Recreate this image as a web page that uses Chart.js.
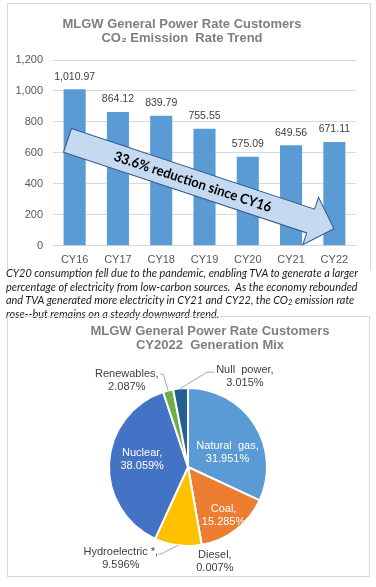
<!DOCTYPE html>
<html>
<head>
<meta charset="utf-8">
<script src="https://cdn.jsdelivr.net/npm/chart.js@4.4.1/dist/chart.umd.min.js"></script>
<style>
html,body{margin:0;padding:0;background:#fff;width:376px;height:587px;overflow:hidden;}
#barBox{position:absolute;left:7px;top:3px;width:362px;height:266px;border:1px solid #d9d9d9;border-bottom:none;}
#barBox canvas{position:absolute;left:0;top:0;}
#note{position:absolute;left:6px;top:266px;font-family:Lato,"Open Sans",sans-serif;font-style:italic;font-size:11.5px;line-height:13.7px;color:#1a1a1a;white-space:nowrap;transform-origin:0 0;}
#note sub{font-size:70%;line-height:0;vertical-align:-1px;}
#pieBox{position:absolute;left:7px;top:316px;width:361px;height:259px;border:1px solid #d9d9d9;background:transparent;}
#pieBox canvas{position:absolute;left:0;top:0;}
#pieTitle{position:absolute;left:42px;top:7px;width:320px;text-align:center;font-family:"Liberation Sans",Arial,sans-serif;font-weight:bold;font-size:13px;line-height:14px;color:#7f7f7f;white-space:pre;}
</style>
</head>
<body>
<div id="barBox"><canvas id="barChart" width="362" height="271"></canvas></div>
<div id="note"><span id="noteL1">CY20 consumption fell due to the pandemic, enabling TVA to generate a larger</span><br>percentage of electricity from low-carbon sources.&nbsp; As the economy rebounded<br>and TVA generated more electricity in CY21 and CY22, the CO<sub>2</sub> emission rate<br>rose--but remains on a steady downward trend.</div>
<div id="pieBox"><canvas id="pieChart" width="361" height="259"></canvas><div id="pieTitle">MLGW General Power Rate Customers
CY2022  Generation Mix</div></div>
<script>
// ---- data ----
const years = ['CY16', 'CY17', 'CY18', 'CY19', 'CY20', 'CY21', 'CY22'];
const emissionRate = [1010.97, 864.12, 839.79, 755.55, 575.09, 649.56, 671.11];
const yTicks = [0, 200, 400, 600, 800, 1000, 1200];
const barTitle = ['MLGW General Power Rate Customers', 'CO\u2082 Emission  Rate Trend'];
const arrowText = '33.6% reduction since CY16';

const mixLabels = ['Natural  gas', 'Coal', 'Diesel', 'Hydroelectric *', 'Nuclear', 'Renewables', 'Null  power'];
const mixShares = [31.951, 15.285, 0.007, 9.596, 38.059, 2.087, 3.015];

// ---- styles ----
const FONT = '"Liberation Sans", Arial, sans-serif';
const mixColors = ['#5b9bd5', '#ed7d31', '#a5a5a5', '#ffc000', '#4472c4', '#70ad47', '#255e91'];
// annotation arrow (in axis units for its ends, pixels for widths)
const arrowSpec = {from: {x: -0.165, y: 681}, to: {x: 5.99, y: 110}, shaftHalf: 12.5, headHalf: 25, headLen: 24.5, textAt: 132, textWidth: 165};
// label placement around the pie, in radius units relative to the centre
const pieLabelPlace = [
  {dx: 0.50, dy: -0.19, color: '#ffffff'},
  {dx: 0.45, dy: 0.61, color: '#ffffff'},
  {dx: 0.34, dy: 1.19, color: '#404040'},
  {dx: -0.85, dy: 1.16, color: '#404040', leader: [[-0.34, 1.10], [-0.375, 1.10]]},
  {dx: -0.58, dy: -0.10, color: '#ffffff'},
  {dx: -0.775, dy: -1.09, color: '#404040', leader: [[-0.31, -1.17], [-0.35, -1.18]]},
  {dx: 0.72, dy: -1.15, color: '#404040', leader: [[0.24, -1.20], [0.33, -1.20]]}
];

const fmt2 = v => v.toLocaleString('en-US', {minimumFractionDigits: 2, maximumFractionDigits: 2});

const arrowPlugin = {
  id: 'trendArrow',
  afterDatasetsDraw(chart) {
    const {ctx, scales: {x: xs, y: ys}} = chart;
    const x0 = xs.getPixelForValue(arrowSpec.from.x), y0 = ys.getPixelForValue(arrowSpec.from.y);
    const x1 = xs.getPixelForValue(arrowSpec.to.x), y1 = ys.getPixelForValue(arrowSpec.to.y);
    const ang = Math.atan2(y1 - y0, x1 - x0), L = Math.hypot(x1 - x0, y1 - y0);
    const sh = arrowSpec.shaftHalf, hh = arrowSpec.headHalf, hl = arrowSpec.headLen;
    ctx.save();
    ctx.translate(x0, y0);
    ctx.rotate(ang);
    ctx.beginPath();
    ctx.moveTo(0, -sh);
    ctx.lineTo(L - hl, -sh);
    ctx.lineTo(L - hl, -hh);
    ctx.lineTo(L, 0);
    ctx.lineTo(L - hl, hh);
    ctx.lineTo(L - hl, sh);
    ctx.lineTo(0, sh);
    ctx.closePath();
    ctx.fillStyle = '#c5d9f1';
    ctx.fill();
    ctx.lineWidth = 1;
    ctx.strokeStyle = '#35588a';
    ctx.stroke();
    ctx.font = 'bold 14px Lato, "Open Sans", sans-serif';
    const w = ctx.measureText(arrowText).width;
    ctx.translate(arrowSpec.textAt, 0);
    ctx.scale(arrowSpec.textWidth / w, 1);
    ctx.fillStyle = '#000';
    ctx.textAlign = 'center';
    ctx.textBaseline = 'middle';
    ctx.fillText(arrowText, 0, 0);
    ctx.restore();
  }
};

const barLabelPlugin = {
  id: 'barValueLabels',
  afterDatasetsDraw(chart) {
    const ctx = chart.ctx;
    const meta = chart.getDatasetMeta(0);
    ctx.save();
    ctx.font = '10.5px ' + FONT;
    ctx.fillStyle = '#404040';
    ctx.textAlign = 'center';
    ctx.textBaseline = 'middle';
    meta.data.forEach((bar, i) => ctx.fillText(fmt2(emissionRate[i]), bar.x, bar.y - 12.5));
    ctx.restore();
  }
};

new Chart(document.getElementById('barChart'), {
  type: 'bar',
  data: {
    labels: years,
    datasets: [{data: emissionRate, backgroundColor: '#5b9bd5', categoryPercentage: 1, barPercentage: 0.51}]
  },
  options: {
    responsive: false,
    animation: false,
    layout: {padding: {left: 0, right: 14, top: 0, bottom: 0}},
    plugins: {
      legend: {display: false},
      tooltip: {enabled: false},
      title: {
        display: true, text: barTitle, color: '#7f7f7f',
        font: {family: FONT, size: 13, weight: 'bold', lineHeight: 14 / 13},
        padding: {top: 13, bottom: 15}
      }
    },
    scales: {
      x: {
        grid: {display: false, drawTicks: false},
        border: {display: true, color: '#d9d9d9'},
        ticks: {color: '#595959', font: {family: FONT, size: 11}, padding: 8}
      },
      y: {
        min: 0, max: 1200,
        afterBuildTicks(s) { s.ticks = yTicks.map(v => ({value: v})); },
        afterFit(s) { s.width = 45; },
        grid: {color: '#d9d9d9', drawTicks: false},
        border: {display: false},
        ticks: {color: '#595959', font: {family: FONT, size: 11}, padding: 10, callback: v => v.toLocaleString('en-US')}
      }
    }
  },
  plugins: [arrowPlugin, barLabelPlugin]
});

const pieLabelPlugin = {
  id: 'pieLabels',
  afterDatasetsDraw(chart) {
    const ctx = chart.ctx;
    const meta = chart.getDatasetMeta(0);
    ctx.save();
    ctx.font = '11px ' + FONT;
    ctx.textAlign = 'center';
    ctx.textBaseline = 'middle';
    meta.data.forEach((arc, i) => {
      const p = arc.getProps(['x', 'y', 'startAngle', 'endAngle', 'outerRadius'], true);
      const R = p.outerRadius;
      const place = pieLabelPlace[i];
      if (place.leader) {
        const mid = (p.startAngle + p.endAngle) / 2;
        ctx.beginPath();
        ctx.moveTo(p.x + Math.cos(mid) * R, p.y + Math.sin(mid) * R);
        place.leader.forEach(pt => ctx.lineTo(p.x + pt[0] * R, p.y + pt[1] * R));
        ctx.strokeStyle = '#a6a6a6';
        ctx.lineWidth = 1;
        ctx.stroke();
      }
      const lx = p.x + place.dx * R, ly = p.y + place.dy * R;
      ctx.fillStyle = place.color;
      ctx.fillText(mixLabels[i] + ',', lx, ly - 6.5);
      ctx.fillText(mixShares[i].toFixed(3) + '%', lx, ly + 6.5);
    });
    ctx.restore();
  }
};

new Chart(document.getElementById('pieChart'), {
  type: 'pie',
  data: {
    labels: mixLabels,
    datasets: [{data: mixShares, backgroundColor: mixColors, borderColor: '#ffffff', borderWidth: 2}]
  },
  options: {
    responsive: false,
    animation: false,
    layout: {padding: {left: 100, right: 101, top: 70, bottom: 29}},
    plugins: {legend: {display: false}, tooltip: {enabled: false}}
  },
  plugins: [pieLabelPlugin]
});

// fit the note text to the reference line width
const l1 = document.getElementById('noteL1');
const note = document.getElementById('note');
const sx = 352 / l1.getBoundingClientRect().width;
note.style.transform = 'scaleX(' + sx + ')';
</script>
</body>
</html>
